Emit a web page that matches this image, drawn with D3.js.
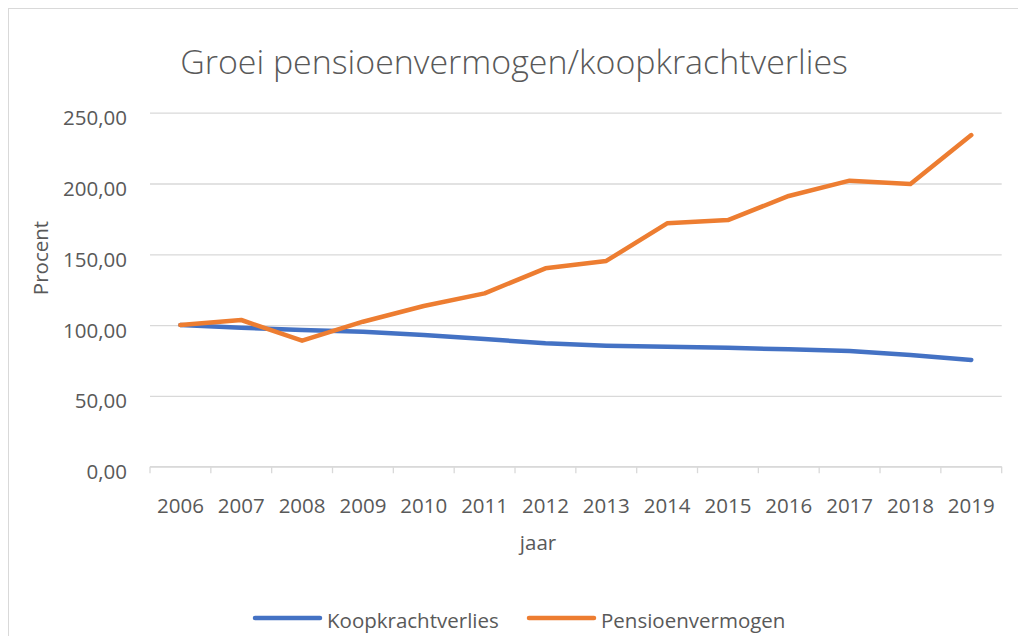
<!DOCTYPE html>
<html>
<head>
<meta charset="utf-8">
<script src="https://cdn.jsdelivr.net/npm/d3@7"></script>
<style>
  html, body { margin: 0; padding: 0; background: #fff; }
  svg { display: block; font-family: "Open Sans", sans-serif; }
</style>
</head>
<body>
<svg id="chart" width="1018" height="636"></svg>
<script>
const years = [2006, 2007, 2008, 2009, 2010, 2011, 2012, 2013, 2014, 2015, 2016, 2017, 2018, 2019];
const koopkrachtverlies = [100, 98.2, 96.5, 95.3, 93.0, 90.2, 87.1, 85.5, 84.7, 84.0, 82.9, 81.7, 78.9, 75.4];
const pensioenvermogen = [100, 103.6, 89.0, 102.4, 113.5, 122.4, 140.1, 145.3, 171.9, 174.2, 191.2, 202.0, 199.6, 234.2];
const yTicks = [0, 50, 100, 150, 200, 250];

const series = [
  { name: 'Koopkrachtverlies', values: koopkrachtverlies, color: '#4472C4' },
  { name: 'Pensioenvermogen', values: pensioenvermogen, color: '#ED7D31' },
];

const TEXT_COLOR = '#595959';
const GRID_COLOR = '#d9d9d9';

const svg = d3.select('#chart');

// chart frame (right/bottom edges fall outside the picture)
svg.append('rect')
  .attr('x', 8.5).attr('y', 8.5)
  .attr('width', 1100).attr('height', 700)
  .attr('fill', '#fff')
  .attr('stroke', GRID_COLOR);

const plot = { left: 150, right: 1001.7, top: 112.7, bottom: 466.7 };

const x = d3.scaleBand()
  .domain(years)
  .range([plot.left, plot.right]);

const y = d3.scaleLinear()
  .domain([0, 250])
  .range([plot.bottom, plot.top]);

const fmt = v => d3.format('.2f')(v).replace('.', ',');

// gridlines + y labels
svg.append('g')
  .attr('transform', `translate(${plot.left},0)`)
  .call(d3.axisLeft(y).tickValues(yTicks).tickSize(-(plot.right - plot.left)).tickFormat(fmt).tickPadding(23))
  .call(g => g.select('.domain').remove())
  .call(g => g.selectAll('.tick line').attr('stroke', GRID_COLOR).attr('stroke-width', 1.3))
  .call(g => g.selectAll('.tick text')
    .attr('fill', TEXT_COLOR)
    .attr('font-size', 20.5)
    .attr('dy', 12)
    .style('font-family', '"Open Sans", sans-serif'));

// x axis with tick marks at band edges
const xAxis = svg.append('g');
xAxis.append('line')
  .attr('x1', plot.left).attr('x2', plot.right)
  .attr('y1', plot.bottom).attr('y2', plot.bottom)
  .attr('stroke', GRID_COLOR).attr('stroke-width', 1.3);

const edges = years.map(yr => x(yr)).concat([plot.right]);
xAxis.selectAll('.xtick')
  .data(edges)
  .join('line')
  .attr('class', 'xtick')
  .attr('x1', d => d).attr('x2', d => d)
  .attr('y1', plot.bottom).attr('y2', plot.bottom + 6.5)
  .attr('stroke', GRID_COLOR).attr('stroke-width', 1.3);

xAxis.selectAll('.xlabel')
  .data(years)
  .join('text')
  .attr('class', 'xlabel')
  .attr('x', d => x(d) + x.bandwidth() / 2)
  .attr('y', 513)
  .attr('text-anchor', 'middle')
  .attr('font-size', 20.5)
  .attr('fill', TEXT_COLOR)
  .text(d => d);

// lines
const line = d3.line()
  .x((d, i) => x(years[i]) + x.bandwidth() / 2)
  .y(d => y(d));

svg.selectAll('.series')
  .data(series)
  .join('path')
  .attr('class', 'series')
  .attr('d', d => line(d.values))
  .attr('fill', 'none')
  .attr('stroke', d => d.color)
  .attr('stroke-width', 4.5)
  .attr('stroke-linejoin', 'round')
  .attr('stroke-linecap', 'round');

// title
const title = svg.append('text')
  .attr('x', 514)
  .attr('y', 74)
  .attr('text-anchor', 'middle')
  .attr('fill', TEXT_COLOR)
  .attr('font-weight', 300)
  .attr('font-size', 32)
  .text('Groei pensioenvermogen/koopkrachtverlies');
const tw = title.node().getComputedTextLength();
title.attr('font-size', 32 * 668 / tw);

// axis titles
svg.append('text')
  .attr('transform', 'translate(48,258) rotate(-90)')
  .attr('text-anchor', 'middle')
  .attr('font-size', 20.5)
  .attr('fill', TEXT_COLOR)
  .text('Procent');

svg.append('text')
  .attr('x', 538)
  .attr('y', 550)
  .attr('text-anchor', 'middle')
  .attr('font-size', 20.5)
  .attr('fill', TEXT_COLOR)
  .text('jaar');

// legend
const legendItems = [
  { name: series[0].name, color: series[0].color, x: 253 },
  { name: series[1].name, color: series[1].color, x: 527 },
];
const legend = svg.selectAll('.legend')
  .data(legendItems)
  .join('g')
  .attr('class', 'legend')
  .attr('transform', d => `translate(${d.x},618)`);

legend.append('line')
  .attr('x1', 2).attr('x2', 67)
  .attr('stroke', d => d.color)
  .attr('stroke-width', 4.5)
  .attr('stroke-linecap', 'round');

legend.append('text')
  .attr('x', 74)
  .attr('y', 10)
  .attr('font-size', 20.5)
  .attr('fill', TEXT_COLOR)
  .text(d => d.name);
</script>
</body>
</html>
